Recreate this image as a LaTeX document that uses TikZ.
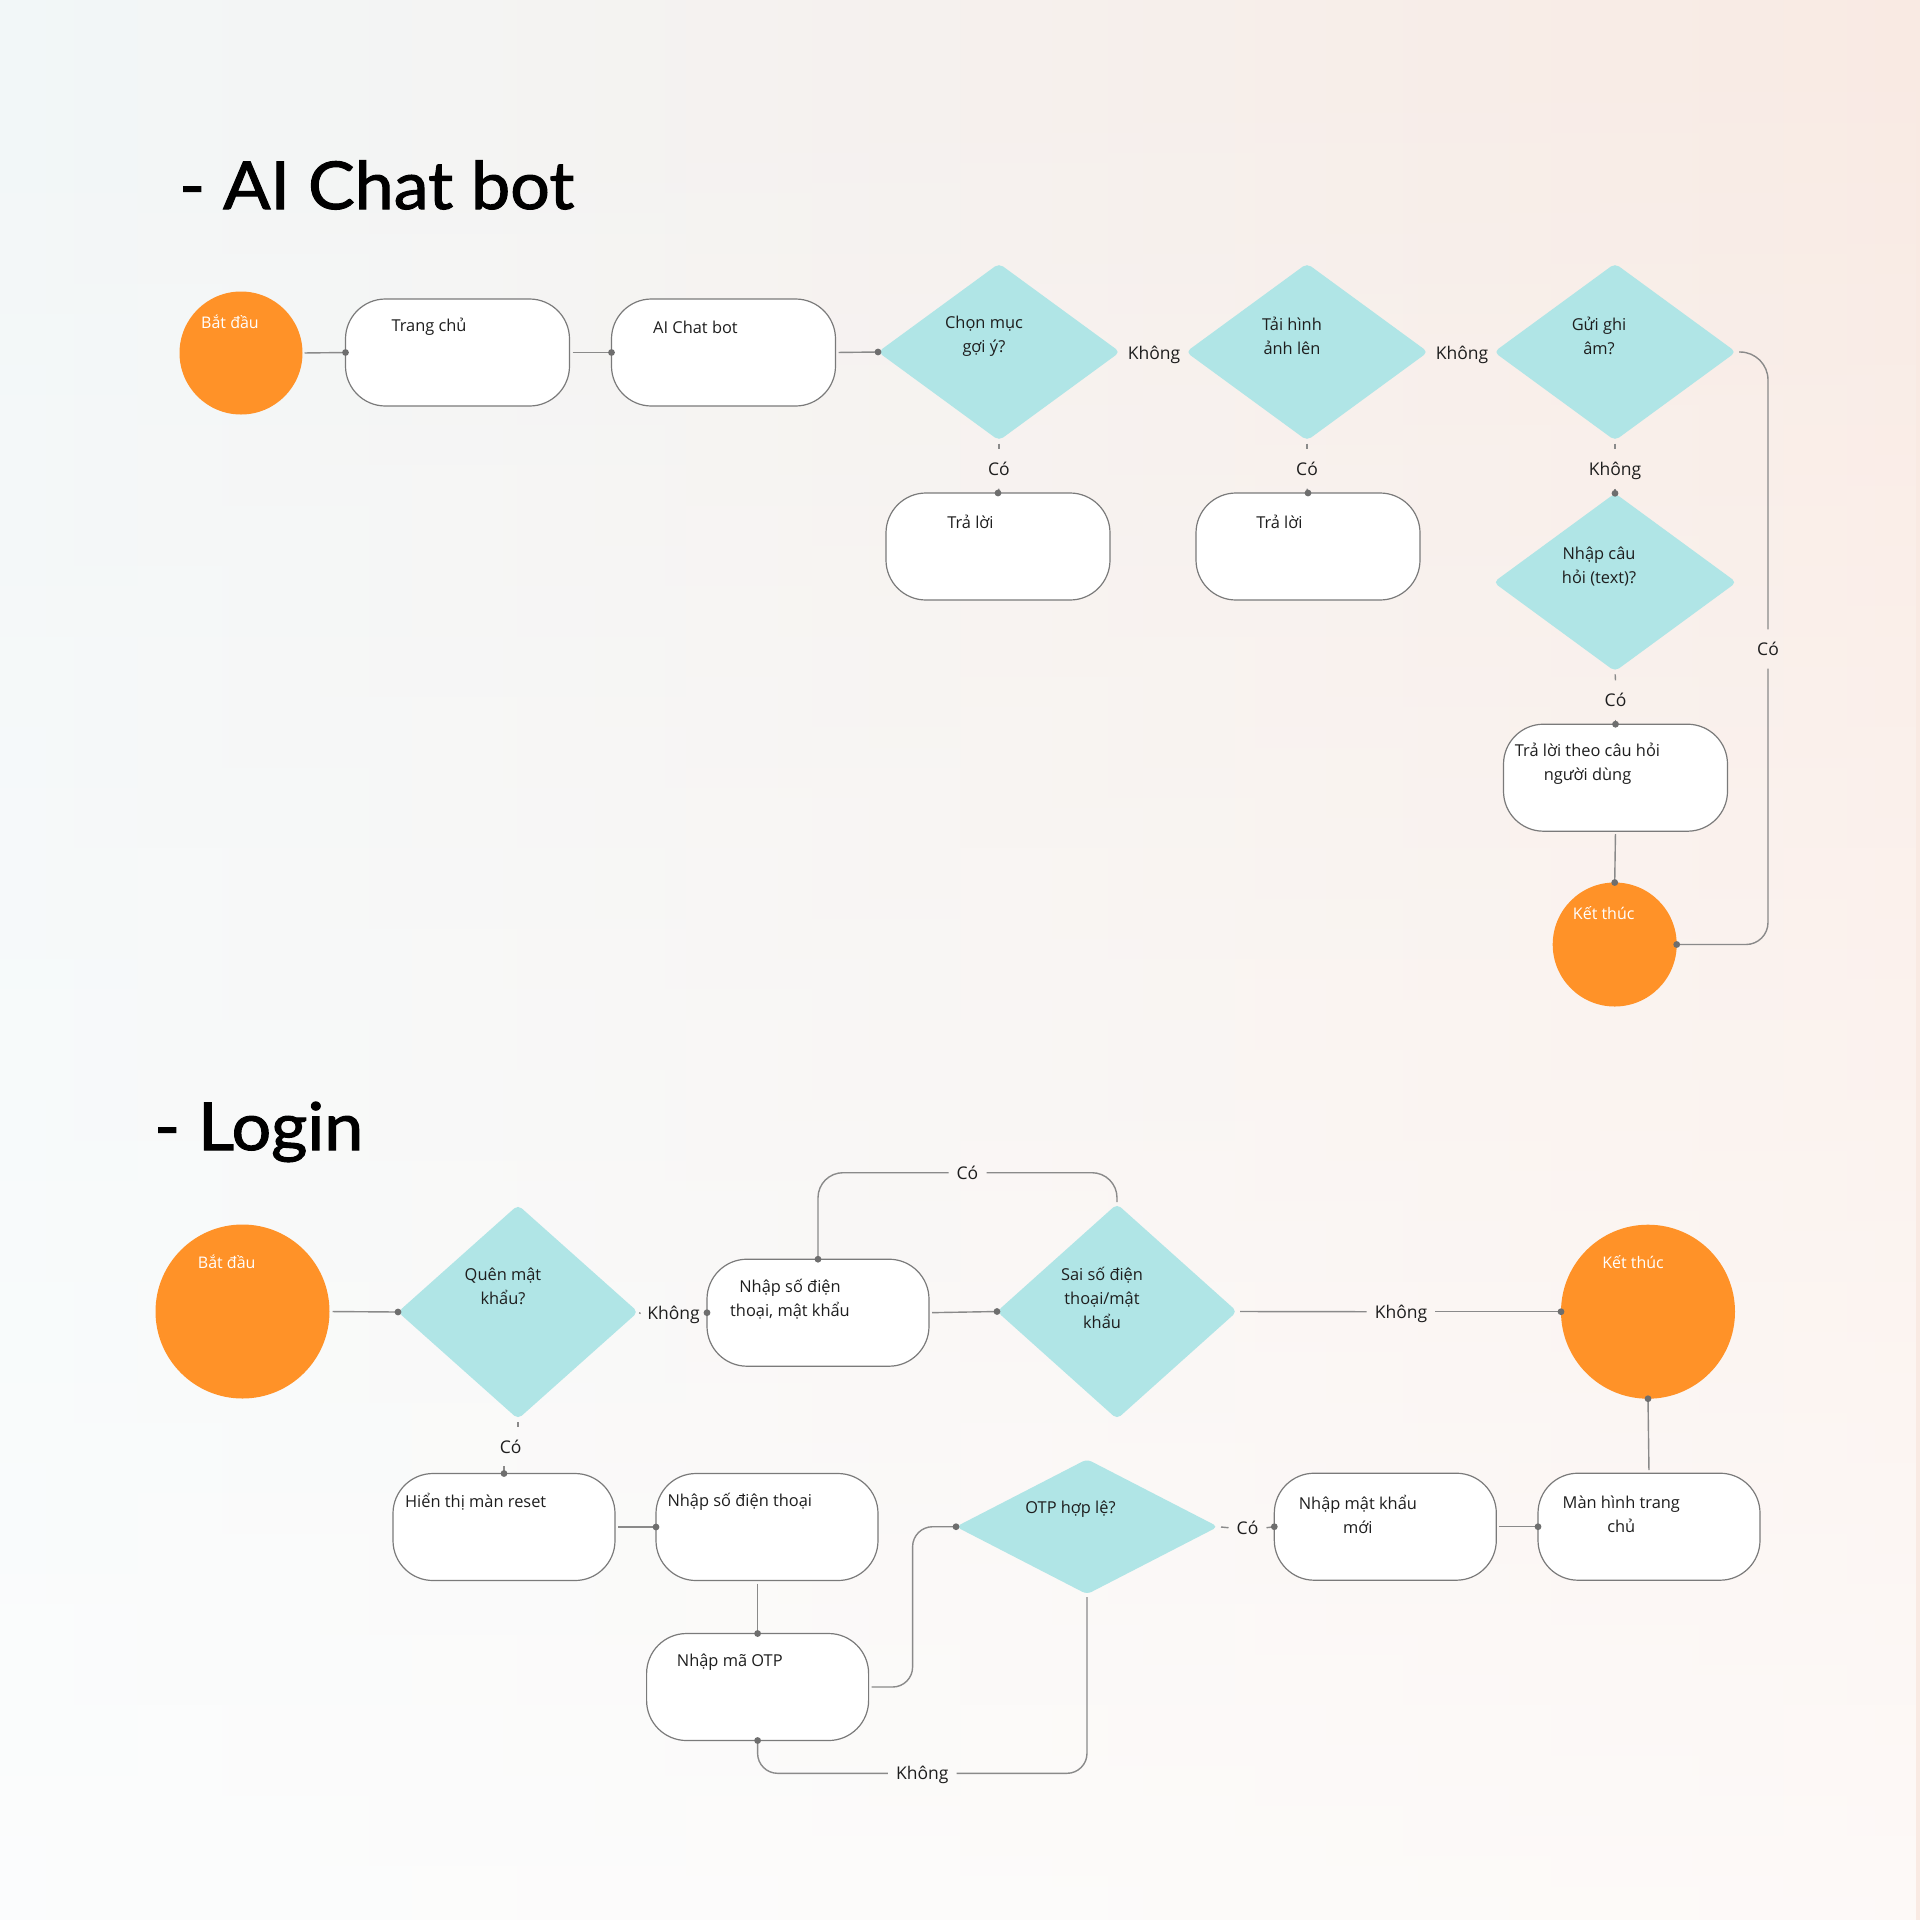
\documentclass[tikz,border=0pt]{standalone}
\usepackage{fontspec}
\setmainfont{Open Sans}
\newfontfamily\titlefont[FakeBold=1.6, FakeStretch=1.06]{Lato}
\usetikzlibrary{shapes.geometric,fadings}
\definecolor{orng}{HTML}{FF9228}
\definecolor{tealc}{HTML}{B0E5E6}
\definecolor{boxc}{HTML}{7A7A7A}
\definecolor{linec}{HTML}{8A8A8A}
\definecolor{dotc}{HTML}{6E6E6E}
\definecolor{txtc}{HTML}{1E1E1E}
\definecolor{bgl}{HTML}{F2F7F8}
\definecolor{bgr}{HTML}{F9EAE3}
\tikzfading[name=fadeup, top color=transparent!100, middle color=transparent!88, bottom color=transparent!25]
\newcommand\mydot[1]{\fill[dotc] (#1) circle[radius=3.4pt];}
\tikzset{
  term/.style={circle, fill=orng, draw=none, inner sep=0pt, outer sep=0pt},
  procbox/.style={rectangle, draw=boxc, line width=1.2pt, fill=white, rounded corners=40pt,
    minimum width=224pt, minimum height=107pt, inner sep=0pt, outer sep=0pt},
  decision/.style={diamond, fill=tealc, draw=none, inner sep=0pt, outer sep=0pt, rounded corners=5pt},
  ntext/.style={text=txtc, font=\fontsize{16.4}{24}\selectfont, align=center, inner sep=0pt},
  ttext/.style={text=white, font=\fontsize{16}{20}\selectfont, inner sep=0pt},
  lbl/.style={text=txtc, font=\fontsize{17.5}{20}\selectfont, inner xsep=8pt, inner ysep=13pt,
    text height=13pt, text depth=0pt},
  conn/.style={draw=linec, line width=1.4pt},
  ttl/.style={font=\titlefont\fontsize{66}{70}\selectfont, text=black, anchor=base west, inner sep=0pt},
}
\begin{document}
\begin{tikzpicture}[x=1pt,y=-1pt]
\useasboundingbox (0,0) rectangle (1920,1920);
\fill[left color=bgl, right color=bgr] (0,0) rectangle (1920,1920);
\fill[white, path fading=fadeup] (0,0) rectangle (1920,1920);

% ---------- AI Chat bot ----------
\node[ttl] (t1) at (179,209) {- AI Chat bot};

\node[term, minimum size=123pt] (s1) at (241,353) {};
\node[ttext] (s1t) at (230,322) {Bắt đầu};
\node[procbox] (home) at (457.5,352.5) {};
\node[ntext] (homet) at (429,327) {Trang chủ};
\node[procbox] (aicb) at (723.5,352.5) {};
\node[ntext] (aicbt) at (695.5,327) {AI Chat bot};

\node[decision, minimum width=242pt, minimum height=177pt] (d1) at (999,352) {};
\node[ntext] (d1t) at (984,336) {Chọn mục\\gợi ý?};
\node[decision, minimum width=242pt, minimum height=177pt] (d2) at (1307,352) {};
\node[ntext] (d2t) at (1292,336) {Tải hình\\ảnh lên};
\node[decision, minimum width=242pt, minimum height=177pt] (d3) at (1615,352) {};
\node[ntext] (d3t) at (1599,336) {Gửi ghi\\âm?};
\node[lbl] (k1) at (1154,352.7) {Không};
\node[lbl] (k2) at (1462,352.7) {Không};

\node[lbl] (c1) at (999,469) {Có};
\node[procbox] (tl1) at (998,546.5) {};
\node[ntext] (tl1t) at (970.5,522) {Trả lời};
\node[lbl] (c2) at (1307,469) {Có};
\node[procbox] (tl2) at (1308,546.5) {};
\node[ntext] (tl2t) at (1279.4,522) {Trả lời};

\node[lbl] (k3) at (1615,469) {Không};
\node[decision, minimum width=243pt, minimum height=178pt] (d4) at (1615,582.3) {};
\node[ntext] (d4t) at (1599,567) {Nhập câu\\hỏi (text)?};
\node[lbl] (c3) at (1615.5,700) {Có};
\node[procbox] (ans) at (1615.5,777.7) {};
\node[ntext] (anst) at (1587.5,764) {Trả lời theo câu hỏi\\người dùng};
\node[term, minimum size=124pt] (e1) at (1614.7,944.5) {};
\node[ttext] (e1t) at (1603.7,913.3) {Kết thúc};
\node[lbl] (c4) at (1768,649) {Có};

\draw[conn, shorten <=2pt] (s1.east) -- (home.west); \mydot{home.west}
\draw[conn, shorten <=3pt] (home.east) -- (aicb.west); \mydot{aicb.west}
\draw[conn, shorten <=3pt] (aicb.east) -- (d1.west); \mydot{d1.west}
\draw[conn, shorten <=3pt] (d1.south) -- (c1.north);
\draw[conn] (c1.south) -- (tl1.north); \mydot{tl1.north}
\draw[conn, shorten <=3pt] (d2.south) -- (c2.north);
\draw[conn] (c2.south) -- (tl2.north); \mydot{tl2.north}
\draw[conn, shorten <=3pt] (d3.south) -- (k3.north);
\draw[conn] (k3.south) -- (d4.north); \mydot{d4.north}
\draw[conn, shorten <=3pt] (d4.south) -- (c3.north);
\draw[conn] (c3.south) -- (ans.north); \mydot{ans.north}
\draw[conn, shorten <=3pt] (ans.south) -- (e1.north); \mydot{e1.north}
\draw[conn, rounded corners=28pt, shorten <=3pt] (d3.east) -| (c4.north);
\draw[conn, rounded corners=22pt] (c4.south) |- (e1.east); \mydot{e1.east}

% ---------- Login ----------
\node[ttl] (t2) at (154,1150) {- Login};

\node[term, minimum size=174pt] (s2) at (242.5,1311.5) {};
\node[ttext] (s2t) at (226.7,1262.3) {Bắt đầu};
\node[decision, minimum width=240pt, minimum height=214pt] (q) at (518,1312) {};
\node[ntext] (qt) at (503,1286) {Quên mật\\khẩu?};
\node[lbl] (k4) at (673.6,1312.7) {Không};
\node[procbox, minimum width=222pt] (np) at (818,1312.7) {};
\node[ntext] (npt) at (790,1299) {Nhập số điện\\thoại, mật khẩu};
\node[decision, minimum width=240pt, minimum height=215pt] (sai) at (1117,1311.5) {};
\node[ntext] (sait) at (1102,1298) {Sai số điện\\thoại/mật\\khẩu};
\node[lbl] (c5) at (967.5,1172.7) {Có};
\node[lbl] (k5) at (1401,1311.7) {Không};
\node[term, minimum size=174pt] (e2) at (1648,1311.7) {};
\node[ttext] (e2t) at (1633,1262.3) {Kết thúc};

\node[lbl] (c6) at (510.7,1446.7) {Có};
\node[procbox, minimum width=222pt] (rs) at (504,1527) {};
\node[ntext] (rst) at (475.7,1501.7) {Hiển thị màn reset};
\node[procbox, minimum width=222pt] (nsdt) at (767,1527) {};
\node[ntext] (nsdtt) at (739.8,1501.7) {Nhập số điện thoại};
\node[procbox, minimum width=222pt] (otpin) at (757.6,1687) {};
\node[ntext] (otpint) at (729.8,1661.7) {Nhập mã OTP};
\node[decision, minimum width=262pt, minimum height=135pt] (otpd) at (1087,1526.7) {};
\node[ntext] (otpdt) at (1070.5,1509.3) {OTP hợp lệ?};
\node[lbl] (c7) at (1247.5,1527.7) {Có};
\node[procbox, minimum width=222pt] (nmk) at (1385.3,1526.7) {};
\node[ntext] (nmkt) at (1357.9,1514) {Nhập mật khẩu\\mới};
\node[procbox, minimum width=222pt] (mh) at (1649,1526.7) {};
\node[ntext] (mht) at (1621.3,1514) {Màn hình trang\\chủ};
\node[lbl] (k6) at (922.3,1773.3) {Không};
\coordinate (j1) at (912.6,1600);

\draw[conn, shorten <=3pt] (s2.east) -- (q.west); \mydot{q.west}
\draw[conn, shorten <=3pt] (q.east) -- (k4.west);
\draw[conn] (k4.east) -- (np.west); \mydot{np.west}
\draw[conn, shorten <=3pt] (np.east) -- (sai.west); \mydot{sai.west}
\draw[conn, rounded corners=25pt] (np.north) |- (c5.west); \mydot{np.north}
\draw[conn, rounded corners=25pt, shorten >=2pt] (c5.east) -| (sai.north);
\draw[conn, shorten <=3pt] (sai.east) -- (k5.west);
\draw[conn] (k5.east) -- (e2.west); \mydot{e2.west}
\draw[conn, shorten >=3pt] (e2.south) -- (mh.north); \mydot{e2.south}
\draw[conn, shorten <=3pt] (q.south) -- (c6.north -| q.south);
\draw[conn] (c6.south -| rs.north) -- (rs.north); \mydot{rs.north}
\draw[conn, shorten <=3pt] (rs.east) -- (nsdt.west); \mydot{nsdt.west}
\draw[conn, shorten <=3pt] (nsdt.south -| otpin.north) -- (otpin.north); \mydot{otpin.north}
\draw[conn, rounded corners=20pt, shorten <=3pt] (otpin.east) -| (j1 |- otpd.west) -- (otpd.west); \mydot{otpd.west}
\draw[conn, rounded corners=20pt, shorten <=3pt] (otpd.south) |- (k6.east);
\draw[conn, rounded corners=20pt] (k6.west) -| (otpin.south); \mydot{otpin.south}
\draw[conn, shorten <=3pt] (otpd.east) -- (c7.west);
\draw[conn] (c7.east) -- (nmk.west); \mydot{nmk.west}
\draw[conn, shorten <=3pt] (nmk.east) -- (mh.west); \mydot{mh.west}
\end{tikzpicture}
\end{document}
